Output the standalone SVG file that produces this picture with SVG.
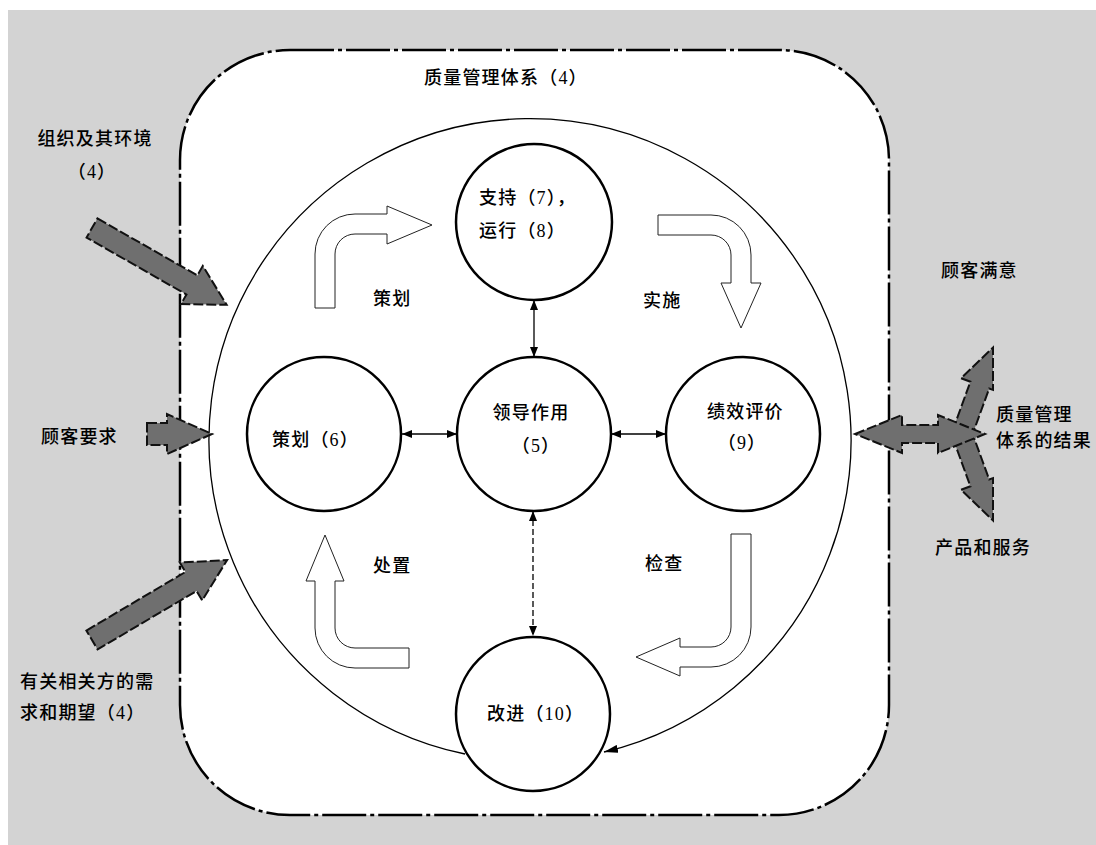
<svg xmlns="http://www.w3.org/2000/svg" width="1096" height="845" viewBox="0 0 1096 845">
<defs>
<style>
.t{font-family:"Liberation Serif","Noto Sans CJK SC",serif;font-size:18px;font-weight:500;letter-spacing:1.2px;fill:#000}
.m{text-anchor:middle}
.node{fill:#fff;stroke:#000;stroke-width:2.5}
.hollow{fill:#fff;stroke:#222;stroke-width:1}
.grey{fill:#6f6f6f;stroke:#111;stroke-width:2;stroke-dasharray:10 3}
.conn{fill:none;stroke:#000;stroke-width:1.3}
</style>
<marker id="ah" viewBox="0 0 10 8" refX="10" refY="4" markerWidth="10" markerHeight="8" orient="auto-start-reverse" markerUnits="userSpaceOnUse"><path d="M0,0 L10,4 L0,8 Z" fill="#000"/></marker>
<marker id="big" viewBox="0 0 14 8" refX="14" refY="4" markerWidth="14" markerHeight="8" orient="auto" markerUnits="userSpaceOnUse"><path d="M0,0 L14,4 L0,8 Z" fill="#000"/></marker>
</defs>
<rect width="1096" height="845" fill="#fff"/>
<rect x="8" y="10" width="1088" height="835" fill="#d3d3d3"/>

<g id="qms">
<rect x="180" y="50" width="709" height="765" rx="110" fill="#fff" stroke="#000" stroke-width="2.5" stroke-dasharray="44 4 4 4"/>
<text class="t" x="424" y="84">质量管理体系（4）</text>
</g>

<g id="connectors">
<path class="conn" d="M465,754 A321,321 0 1 1 604,752" marker-end="url(#big)"/>
<line class="conn" x1="402" y1="434" x2="457" y2="434" marker-start="url(#ah)" marker-end="url(#ah)"/>
<line class="conn" x1="611" y1="434" x2="666" y2="434" marker-start="url(#ah)" marker-end="url(#ah)"/>
<line class="conn" x1="534" y1="300" x2="534" y2="357" marker-start="url(#ah)" marker-end="url(#ah)"/>
<line class="conn" x1="533" y1="511" x2="533" y2="636" stroke-dasharray="6 3" marker-start="url(#ah)" marker-end="url(#ah)"/>
</g>

<g id="cycle-arrows">
<path class="hollow" d="M315,308 L315,254 A40,40 0 0 1 355,214 L387,214 L387,206 L432,225 L387,244 L387,234 L355,234 A20,20 0 0 0 335,254 L335,308 Z"/>
<path class="hollow" d="M658,215 L711,215 A40,40 0 0 1 751,255 L751,283 L761,283 L741,328 L721,283 L731,283 L731,255 A20,20 0 0 0 711,235 L658,235 Z"/>
<path class="hollow" d="M731,534 L751,534 L751,627 A40,40 0 0 1 711,667 L680,667 L680,676 L636,657 L680,638 L680,647 L711,647 A20,20 0 0 0 731,627 Z"/>
<path class="hollow" d="M409,648 L355,648 A20,20 0 0 1 335,628 L335,581 L344,581 L325,535 L306,581 L315,581 L315,628 A40,40 0 0 0 355,668 L409,668 Z"/>
<text class="t" x="373" y="305">策划</text>
<text class="t" x="643" y="307">实施</text>
<text class="t" x="373" y="572">处置</text>
<text class="t" x="645" y="570">检查</text>
</g>

<g id="node-support">
<circle class="node" cx="534" cy="222" r="78"/>
<text class="t" x="479" y="204">支持（7），</text>
<text class="t" x="479" y="237">运行（8）</text>
</g>
<g id="node-planning">
<circle class="node" cx="324" cy="434" r="77"/>
<text class="t" x="272" y="446">策划（6）</text>
</g>
<g id="node-leadership">
<circle class="node" cx="534" cy="434" r="77"/>
<text class="t m" x="531" y="419">领导作用</text>
<text class="t m" x="536" y="452">（5）</text>
</g>
<g id="node-evaluation">
<circle class="node" cx="743" cy="434" r="77"/>
<text class="t" x="707" y="418">绩效评价</text>
<text class="t m" x="742" y="449">（9）</text>
</g>
<g id="node-improvement">
<circle class="node" cx="533" cy="714" r="77"/>
<text class="t" x="487" y="720">改进（10）</text>
</g>

<g id="input-context">
<polygon class="grey" transform="translate(92,228) rotate(29.7)" points="0,-11 115,-11 115,-22 155,0 115,22 115,11 0,11"/>
<text class="t m" x="95" y="145">组织及其环境</text>
<text class="t m" x="92" y="178">（4）</text>
</g>
<g id="input-requirements">
<polygon class="grey" points="147,423 167,423 167,414 212,434 167,454 167,445 147,445"/>
<text class="t" x="41" y="443">顾客要求</text>
</g>
<g id="input-parties">
<polygon class="grey" transform="translate(92,640) rotate(-30.6)" points="0,-11 115,-11 115,-22 157,0 115,22 115,11 0,11"/>
<text class="t" x="20" y="688">有关相关方的需</text>
<text class="t" x="20" y="719">求和期望（4）</text>
</g>
<g id="output-results">
<polygon class="grey" points="952.6,430.6 970.4,381.7 961,378.3 993,347.5 993,389.9 989.2,388.5 971.4,437.4"/>
<polygon class="grey" points="952.6,437.4 970.4,486.3 961,489.7 993,520.5 993,478.1 989.2,479.5 971.4,430.6"/>
<polygon class="grey" points="855,434 902,415 902,425 938,425 938,415 985,434 938,453 938,443 902,443 902,453"/>
<text class="t" x="941" y="277">顾客满意</text>
<text class="t" x="996" y="421">质量管理</text>
<text class="t" x="996" y="447">体系的结果</text>
<text class="t" x="935" y="554">产品和服务</text>
</g>
</svg>
